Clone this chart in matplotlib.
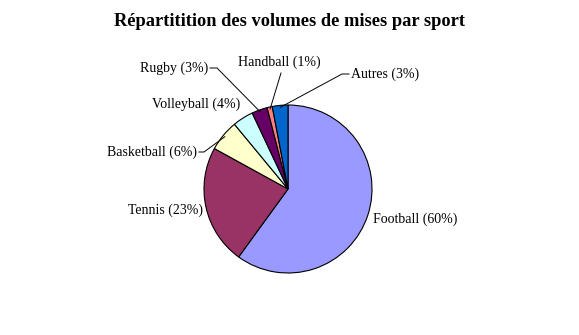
import numpy as np
import matplotlib
matplotlib.use("Agg")
import matplotlib.pyplot as plt

categories = ["Football", "Tennis", "Basketball", "Volleyball", "Rugby", "Handball", "Autres"]
values = [60, 23, 6, 4, 3, 1, 3]
colors = ["#9999FF", "#993366", "#FFFFCC", "#CCFFFF", "#660066", "#FF8080", "#0066CC"]
title = "Répartitition des volumes de mises par sport"

W, H = 579, 335
fig = plt.figure(figsize=(W / 100, H / 100), dpi=100)
ax = fig.add_axes([0, 0, 1, 1])
ax.set_xlim(0, W)
ax.set_ylim(0, H)
ax.set_aspect("equal")
ax.axis("off")

cx, cy, r = 288, H - 189, 84
wedges, _ = ax.pie(values, colors=colors, startangle=90, counterclock=False,
                   center=(cx, cy), radius=r,
                   wedgeprops=dict(edgecolor="black", linewidth=0.8))
ax.set_xlim(0, W)
ax.set_ylim(0, H)

font = dict(family=["Liberation Serif", "DejaVu Serif"], size=10)

# label layout: (x, y in pixels from top, ha, elbow point or None)
layout = {
    "Football": (373, 219, "left", None),
    "Tennis": (203, 210, "right", None),
    "Basketball": (197, 152, "right", (204, 152)),
    "Volleyball": (240, 104, "right", None),
    "Rugby": (208, 68, "right", (217, 68)),
    "Handball": (279, 62, "center", (281, 73)),
    "Autres": (351, 74, "left", (342, 74)),
}

for w, name, v in zip(wedges, categories, values):
    x, y, ha, elbow = layout[name]
    label = f"{name} ({v}%)"
    ax.text(x, H - y, label, ha=ha, va="center", color="black", **font)
    if elbow is not None:
        mid = np.deg2rad((w.theta1 + w.theta2) / 2)
        px, py = cx + (r - 2) * np.cos(mid), cy + (r - 2) * np.sin(mid)
        ex, ey = elbow[0], H - elbow[1]
        if ha == "right":
            sx = x + 2
        elif ha == "left":
            sx = x - 2
        else:
            sx = ex
        ax.plot([sx, ex, px], [ey, ey, py], color="black", lw=0.7)

fig.text(290 / W, 1 - 22 / H, title, ha="center", va="center",
         family=["Liberation Serif", "DejaVu Serif"], weight="bold", size=13.2)

fig.savefig("out.png", dpi=100)
